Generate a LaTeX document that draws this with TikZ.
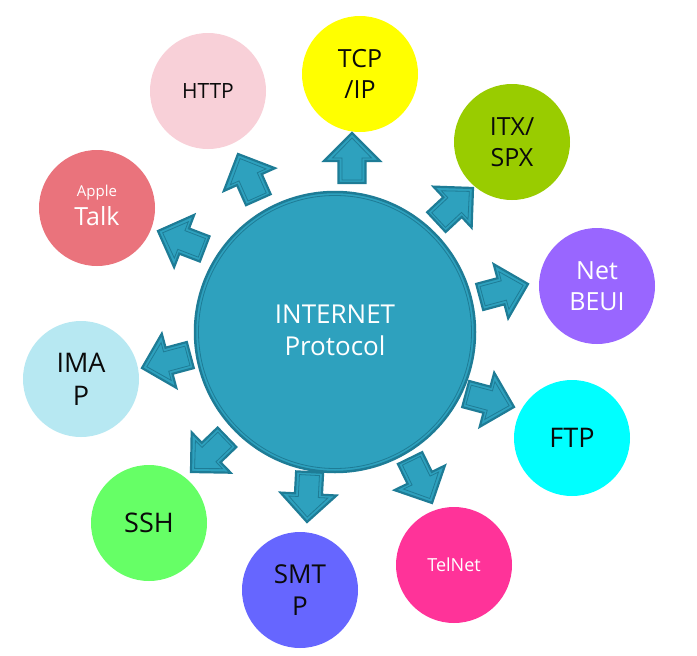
\documentclass[tikz,border=0pt]{standalone}
\usepackage{fontspec}
\setmainfont{Open Sans}
\definecolor{hubfill}{RGB}{46,161,190}
\definecolor{hubline}{RGB}{30,124,150}
\definecolor{httpc}{RGB}{248,208,216}
\definecolor{tcpc}{RGB}{255,255,0}
\definecolor{itxc}{RGB}{153,204,0}
\definecolor{applec}{RGB}{234,115,124}
\definecolor{netc}{RGB}{153,102,255}
\definecolor{ftpc}{RGB}{0,255,255}
\definecolor{telc}{RGB}{255,51,153}
\definecolor{smtpc}{RGB}{102,102,255}
\definecolor{sshc}{RGB}{102,255,102}
\definecolor{imapc}{RGB}{183,232,242}
\definecolor{ink}{RGB}{10,10,10}
\newcommand\ptsize[1]{\fontsize{#1}{1.22\dimexpr#1pt\relax}\selectfont}
\tikzset{
  bubble/.style={circle, minimum size=116pt, inner sep=0pt, align=center, text=ink},
  hubdisc/.style={circle, minimum size=280pt, inner sep=0pt, fill=hubfill, draw=hubline, line width=2.5pt},
  pics/blockarrow/.style={code={
    \filldraw[fill=hubfill, draw=hubline, line width=2.2pt, line join=miter]
      (0,0) -- (-28,28) -- (-28,13.5) -- (-50,13.5) -- (-50,-13.5)
      -- (-28,-13.5) -- (-28,-28) -- cycle;
    \draw[hubline, line width=0.8pt, line join=miter]
      (-5,0) -- (-25,19.5) -- (-25,10) -- (-47,10) -- (-47,-10)
      -- (-25,-10) -- (-25,-19.5) -- cycle;
  }}
}
\begin{document}
\begin{tikzpicture}[x=1pt,y=-1pt]
\useasboundingbox[fill=white] (0,0) rectangle (697,656);

% central hub with its double ring
\node[hubdisc] (hub) at (335,332) {};
\draw[hubline, line width=0.8pt] (hub.center) circle (136.5pt);
\node[text=white, align=center, font=\ptsize{26}] (hubtext) at (335,330) {INTERNET\\Protocol};

% protocol bubbles
\node[bubble, fill=httpc,  font=\ptsize{21}] (http)  at (208,91)  {HTTP};
\node[bubble, fill=tcpc,   font=\ptsize{25}] (tcp)   at (360,74)  {TCP\\/IP};
\node[bubble, fill=itxc,   font=\ptsize{25}] (itx)   at (512,142) {ITX/\\SPX};
\node[bubble, fill=applec] (apple) at (97,208) {};
\node[text=white, font=\ptsize{15}, inner sep=0pt] (appleA) at (97,193) {Apple};
\node[text=white, font=\ptsize{25}, inner sep=0pt] (appleB) at (97,216) {Talk};
\node[bubble, fill=netc,   text=white, font=\ptsize{25}] (net) at (597,286) {Net\\BEUI};
\node[bubble, fill=ftpc,   font=\ptsize{27}] (ftp)   at (572,438) {FTP};
\node[bubble, fill=telc,   text=white, font=\ptsize{18}] (tel) at (454,565) {TelNet};
\node[bubble, fill=smtpc,  font=\ptsize{26}] (smtp)  at (300,590) {SMT\\P};
\node[bubble, fill=sshc,   font=\ptsize{27}] (ssh)   at (149,523) {SSH};
\node[bubble, fill=imapc,  font=\ptsize{27}] (imap)  at (81,379)  {IMA\\P};

% block arrows from the hub towards each bubble
\pic[rotate=90]   at (352,133) {blockarrow};
\pic[rotate=114]  at (238,154) {blockarrow};
\pic[rotate=159]  at (158,231) {blockarrow};
\pic[rotate=43]   at (473,188) {blockarrow};
\pic[rotate=15]   at (528,284) {blockarrow};
\pic[rotate=-15]  at (514,407) {blockarrow};
\pic[rotate=-64]  at (432,503) {blockarrow};
\pic[rotate=-93]  at (307,522) {blockarrow};
\pic[rotate=-136] at (191,472) {blockarrow};
\pic[rotate=195]  at (142,368) {blockarrow};
\end{tikzpicture}
\end{document}
